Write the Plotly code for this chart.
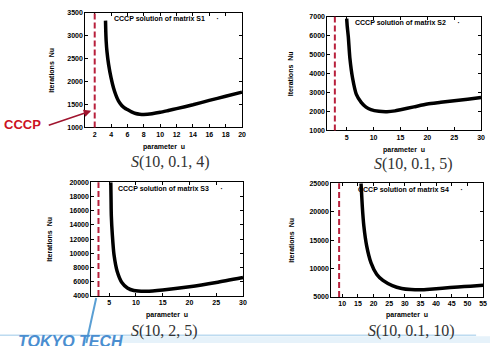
import plotly.graph_objects as go

# ---------------- data ----------------
s1_u = [3.32, 3.35, 3.4, 3.5, 3.7, 4.0, 4.3, 4.6, 4.9, 5.3, 5.7, 6.0, 6.5, 7.0, 7.5, 8.0, 9.0, 10, 11, 12, 14, 16, 18, 20]
s1_nu = [3330, 3100, 2880, 2650, 2370, 2080, 1860, 1700, 1580, 1480, 1420, 1390, 1340, 1305, 1290, 1285, 1300, 1330, 1370, 1410, 1495, 1590, 1680, 1770]

s2_u = [5.0, 5.1, 5.3, 5.6, 6.1, 6.8, 7.7, 8.6, 9.5, 11, 12.5, 14, 15, 17.5, 20, 22.5, 25, 27.5, 30]
s2_nu = [6900, 6500, 5950, 4800, 3750, 2900, 2480, 2230, 2100, 2010, 1990, 2030, 2090, 2240, 2390, 2480, 2570, 2650, 2740]

s3_u = [5.3, 5.35, 5.4, 5.6, 5.9, 6.5, 7.4, 8.4, 9.6, 12, 15, 20, 25, 30]
s3_nu = [20000, 17500, 15300, 12500, 9800, 7450, 5850, 5120, 4760, 4660, 4840, 5300, 5900, 6600]

s4_u = [16.0, 16.4, 16.9, 17.8, 19.2, 21, 23, 26, 29, 32, 35, 38, 42, 47, 51, 55]
s4_nu = [25000, 21000, 17500, 14000, 11000, 9000, 7900, 7000, 6500, 6300, 6250, 6350, 6550, 6750, 6900, 7050]

series_u = [s1_u, s2_u, s3_u, s4_u]
series_nu = [s1_nu, s2_nu, s3_nu, s4_nu]
key_labels = ["CCCP solution of matrix S1", "CCCP solution of matrix S2",
              "CCCP solution of matrix S3", "CCCP solution of matrix S4"]
panel_titles = ["<i>S</i>(10, 0.1, 4)", "<i>S</i>(10, 0.1, 5)",
                "<i>S</i>(10, 2, 5)", "<i>S</i>(10, 0.1, 10)"]
cccp_u = [2, 2.8, 3, 9]          # red dashed CCCP marker positions
x_ranges = [[0.85, 20], [1.4, 30], [1.65, 30], [6.5, 55]]
y_ranges = [[1000, 3500], [1000, 7000], [4000, 20000], [5000, 25000]]
x_ticks = [list(range(2, 21, 2)), list(range(5, 31, 5)), list(range(5, 31, 5)), list(range(10, 56, 5))]
y_ticks = [list(range(1000, 3501, 500)), list(range(1000, 7001, 1000)),
           list(range(4000, 20001, 2000)), list(range(5000, 25001, 5000))]

# ---------------- layout geometry (pixels) ----------------
W, H = 494, 346
boxes = [(86, 244, 9, 126), (330, 485, 13, 129), (92, 245, 182, 298), (334, 487, 183, 299)]
ytitle_x = [52, 293, 50, 293]
xtitle_y = [146, 149, 317, 317]
sub_x = [172, 417, 166, 415]
sub_y = [161, 163, 334, 334]
key_y = [15, 19, 188, 189]


def px(x):
    return x / W


def py(y):
    return 1 - y / H


fig = go.Figure()
TICKFONT = dict(family="Liberation Sans", size=7, color="black", weight="bold")

annotations = []
shapes = []
for i in range(4):
    xa = "x" if i == 0 else f"x{i+1}"
    ya = "y" if i == 0 else f"y{i+1}"
    fig.add_trace(go.Scatter(x=series_u[i], y=series_nu[i], mode="lines",
                             line=dict(color="black", width=3.5, shape="spline", smoothing=0.6),
                             xaxis=xa, yaxis=ya, showlegend=False, hoverinfo="skip"))
    x0, x1, y0, y1 = boxes[i]
    ax_common = dict(showgrid=False, zeroline=False, showline=True, linecolor="black",
                     linewidth=1, mirror="ticks", ticks="inside", ticklen=3,
                     tickcolor="black", tickfont=TICKFONT, tickformat="d",
                     ticklabeloverflow="allow")
    fig.layout[("xaxis" if i == 0 else f"xaxis{i+1}")] = dict(
        domain=[px(x0), px(x1)], range=x_ranges[i], tickvals=x_ticks[i],
        anchor=ya, **ax_common)
    fig.layout[("yaxis" if i == 0 else f"yaxis{i+1}")] = dict(
        domain=[py(y1), py(y0)], range=y_ranges[i], tickvals=y_ticks[i],
        anchor=xa, **ax_common)
    # red dashed CCCP line
    shapes.append(dict(type="line", xref=xa, yref=f"{ya} domain", x0=cccp_u[i], x1=cccp_u[i],
                       y0=0, y1=1, line=dict(color="#B8203C", width=2, dash="6px,3px")))
    # key
    annotations.append(dict(x=px(x0 + (x1 - x0) * 0.52), y=py(key_y[i]), xref="paper", yref="paper",
                            text=key_labels[i] + "&nbsp;&nbsp;&nbsp;&nbsp;&nbsp;&nbsp;·", showarrow=False,
                            font=dict(family="Liberation Sans", size=7, color="black", weight="bold"),
                            xanchor="center", yanchor="middle"))
    # axis titles
    annotations.append(dict(x=px(ytitle_x[i]), y=py((y0 + y1) / 2), xref="paper", yref="paper",
                            text="Iterations&nbsp;&nbsp;Nu", textangle=-90, showarrow=False,
                            font=dict(family="Liberation Sans", size=7, color="black", weight="bold"),
                            xanchor="center", yanchor="middle"))
    annotations.append(dict(x=px((x0 + x1) / 2), y=py(xtitle_y[i]), xref="paper", yref="paper",
                            text="parameter&nbsp;&nbsp;u", showarrow=False,
                            font=dict(family="Liberation Sans", size=7, color="black", weight="bold"),
                            xanchor="center", yanchor="middle"))
    annotations.append(dict(x=px(sub_x[i]), y=py(sub_y[i]), xref="paper", yref="paper",
                            text=panel_titles[i], showarrow=False,
                            font=dict(family="Liberation Serif", size=16, color="#333333"),
                            xanchor="center", yanchor="middle"))

# CCCP label with arrow
annotations.append(dict(x=px(23), y=py(123), xref="paper", yref="paper", text="<b>CCCP</b>",
                        showarrow=False, font=dict(family="Liberation Sans", size=13, color="#CC1122"),
                        xanchor="center", yanchor="middle"))
annotations.append(dict(x=px(92), y=py(109), xref="paper", yref="paper", text="",
                        showarrow=True, ax=-44, ay=15, arrowhead=2, arrowsize=1, arrowwidth=1.5,
                        arrowcolor="#A0142E"))

# Tokyo Tech logo fragment at bottom
shapes.append(dict(type="rect", xref="paper", yref="paper", x0=px(120), x1=1, y0=0, y1=py(339),
                   fillcolor="#E6F2FA", line=dict(width=0), layer="below"))
shapes.append(dict(type="line", xref="paper", yref="paper", x0=0, x1=px(480), y0=py(338), y1=py(338),
                   line=dict(color="#9CC8E8", width=1)))
shapes.append(dict(type="line", xref="paper", yref="paper", x0=px(97), x1=px(87), y0=py(300), y1=0,
                   line=dict(color="#5A9FD4", width=2)))
annotations.append(dict(x=px(17), y=py(335), xref="paper", yref="paper",
                        text="<b><i>TOKYO TECH</i></b>", showarrow=False,
                        font=dict(family="Liberation Sans", size=16, color="#4A8ED0"),
                        xanchor="left", yanchor="top", borderpad=0))

fig.update_layout(width=W, height=H, margin=dict(l=0, r=0, t=0, b=0),
                  paper_bgcolor="white", plot_bgcolor="white",
                  annotations=annotations, shapes=shapes, showlegend=False)

fig.write_html("out.html", config={"displayModeBar": False},
               post_script="document.body.style.margin='0';document.body.style.overflow='hidden';")
